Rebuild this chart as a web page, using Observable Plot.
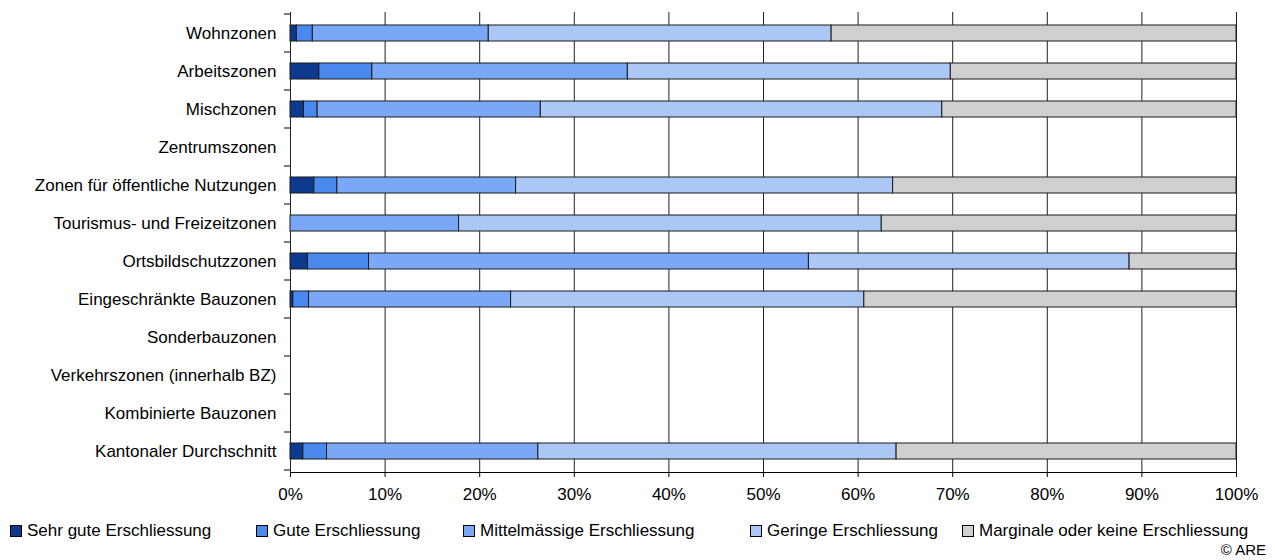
<!DOCTYPE html>
<html>
<head>
<meta charset="utf-8">
<script src="https://cdn.jsdelivr.net/npm/d3@7"></script>
<script src="https://cdn.jsdelivr.net/npm/@observablehq/plot@0.6"></script>
<style>
  html, body { margin: 0; padding: 0; background: #fff; }
  body { width: 1275px; height: 560px; position: relative; font-family: "Liberation Sans", Arial, sans-serif; overflow: hidden; }
  #chart { position: absolute; left: 0; top: 0; }
  .legend { position: absolute; top: 520px; left: 0; width: 1275px; height: 22px; font-size: 17px; color: #000; }
  .legend .item { position: absolute; top: 0; white-space: nowrap; display: flex; align-items: center; line-height: 22px; }
  .legend .sw { width: 10px; height: 10px; border: 1px solid #000; margin-right: 5px; display: inline-block; }
  .caption { position: absolute; right: 9px; top: 541px; font-size: 15px; line-height: 18px; color: #000; }
</style>
</head>
<body>
<div id="chart"></div>
<div class="legend" id="legend"></div>
<div class="caption">© ARE</div>
<script>
const categories = [
  "Wohnzonen",
  "Arbeitszonen",
  "Mischzonen",
  "Zentrumszonen",
  "Zonen für öffentliche Nutzungen",
  "Tourismus- und Freizeitzonen",
  "Ortsbildschutzzonen",
  "Eingeschränkte Bauzonen",
  "Sonderbauzonen",
  "Verkehrszonen (innerhalb BZ)",
  "Kombinierte Bauzonen",
  "Kantonaler Durchschnitt"
];
const seriesNames = [
  "Sehr gute Erschliessung",
  "Gute Erschliessung",
  "Mittelmässige Erschliessung",
  "Geringe Erschliessung",
  "Marginale oder keine Erschliessung"
];
// percent shares per category (same order as categories)
const sehrGute     = [0.67, 3.05, 1.43, 0, 2.52, 0,     1.85, 0.30, 0, 0, 0, 1.36];
const gute         = [1.69, 5.60, 1.44, 0, 2.43, 0,     6.45, 1.66, 0, 0, 0, 2.50];
const mittel       = [18.60, 27.01, 23.59, 0, 18.90, 17.82, 46.50, 21.36, 0, 0, 0, 22.34];
const geringe      = [36.24, 34.14, 42.44, 0, 39.85, 44.68, 33.90, 37.34, 0, 0, 0, 37.87];
const marginale    = [42.80, 30.20, 31.10, 0, 36.30, 37.50, 11.30, 39.34, 0, 0, 0, 35.93];
const xTicks = [0, 10, 20, 30, 40, 50, 60, 70, 80, 90, 100];

const colors = ["#0d3a8e", "#4a89ee", "#7ba8f6", "#aac7f5", "#d0d0d0"];
const seriesValues = [sehrGute, gute, mittel, geringe, marginale];

const rows = [];
categories.forEach((c, i) => {
  seriesValues.forEach((vals, s) => {
    if (vals[i] > 0) rows.push({category: c, series: seriesNames[s], value: vals[i]});
  });
});

const chart = Plot.plot({
  width: 1275,
  height: 515,
  marginLeft: 290,
  marginRight: 39,
  marginTop: 12,
  marginBottom: 43,
  style: {fontFamily: "'Liberation Sans', Arial, sans-serif", fontSize: "17px", color: "#000", background: "#fff"},
  x: {domain: [0, 100], ticks: xTicks, tickFormat: d => d + "%", label: null, tickSize: 5, tickPadding: 10, line: true},
  y: {domain: categories, label: null, paddingInner: 0.58, paddingOuter: 0.29, tickSize: 0, tickPadding: 14, line: true},
  color: {domain: seriesNames, range: colors},
  marks: [
    Plot.gridX(xTicks, {stroke: "#222", strokeOpacity: 1, strokeWidth: 1}),
    Plot.barX(rows, Plot.stackX({
      y: "category",
      x: "value",
      fill: "series",
      stroke: "#1a1a1a",
      strokeWidth: 1,
      order: null
    }))
  ]
});
document.getElementById("chart").appendChild(chart);

// y-axis band boundary ticks (small marks left of axis)
(function addBandTicks() {
  const svg = d3.select(chart);
  const y = chart.scale("y");
  const step = y.step, bw = y.bandwidth;
  const g = svg.append("g").attr("stroke", "#000").attr("stroke-width", 1);
  const starts = categories.map(c => y.apply(c) - (step - bw) / 2);
  starts.push(starts[starts.length - 1] + step);
  starts.forEach(v => {
    g.append("line").attr("x1", 284).attr("x2", 290).attr("y1", v).attr("y2", v);
  });
})();

const legendLefts = [10, 256, 463, 750, 962];
const legend = document.getElementById("legend");
seriesNames.forEach((name, i) => {
  const item = document.createElement("div");
  item.className = "item";
  item.style.left = legendLefts[i] + "px";
  const sw = document.createElement("span");
  sw.className = "sw";
  sw.style.background = colors[i];
  item.appendChild(sw);
  item.appendChild(document.createTextNode(name));
  legend.appendChild(item);
});
</script>
</body>
</html>
